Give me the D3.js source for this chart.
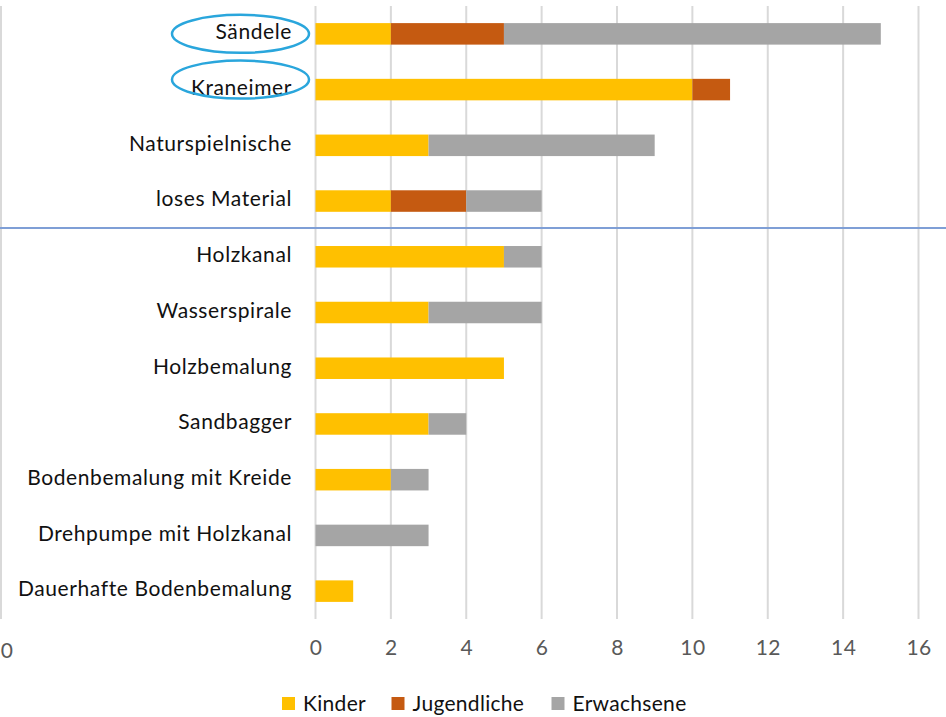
<!DOCTYPE html>
<html><head><meta charset="utf-8">
<script src="https://cdn.jsdelivr.net/npm/d3@7"></script>
<style>body{margin:0;background:#fff}svg{display:block}</style>
</head><body>
<script>
const categories = ["Sändele","Kraneimer","Naturspielnische","loses Material","Holzkanal","Wasserspirale","Holzbemalung","Sandbagger","Bodenbemalung mit Kreide","Drehpumpe mit Holzkanal","Dauerhafte Bodenbemalung"];
const seriesNames = ["Kinder","Jugendliche","Erwachsene"];
const kinder      = [2,10,3,2,5,3,5,3,2,0,1];
const jugendliche = [3,1,0,2,0,0,0,0,0,0,0];
const erwachsene  = [10,0,6,2,1,3,0,1,1,3,0];
const tickValues = [0,2,4,6,8,10,12,14,16];
const colors = ["#FFC000","#C55A11","#A5A5A5"];

const W=946,H=717;
const svg=d3.select("body").append("svg").attr("width",W).attr("height",H);
const font="Lato, 'Open Sans', sans-serif";

const x=d3.scaleLinear().domain([0,16]).range([315.5,918.5]);
const y=d3.scaleBand().domain(categories).range([6,619]).paddingInner(0.614).paddingOuter(0.307);

// gridlines
svg.append("g").selectAll("line").data(tickValues).join("line")
  .attr("x1",d=>x(d)).attr("x2",d=>x(d)).attr("y1",6).attr("y2",619)
  .attr("stroke","#D9D9D9").attr("stroke-width",2);
// left edge partial chart gridline
svg.append("line").attr("x1",1).attr("x2",1).attr("y1",6).attr("y2",619).attr("stroke","#D9D9D9").attr("stroke-width",2);

const stackData=categories.map((c,i)=>({cat:c,Kinder:kinder[i],Jugendliche:jugendliche[i],Erwachsene:erwachsene[i]}));
const stacked=d3.stack().keys(seriesNames)(stackData);

svg.append("g").selectAll("g").data(stacked).join("g").attr("fill",(d,i)=>colors[i])
  .selectAll("rect").data(d=>d).join("rect")
  .attr("x",d=>x(d[0])).attr("width",d=>x(d[1])-x(d[0]))
  .attr("y",d=>y(d.data.cat)).attr("height",y.bandwidth());

// category labels
svg.append("g").selectAll("text").data(categories).join("text")
  .attr("x",292).attr("y",d=>y(d)+y.bandwidth()/2-2).attr("dy","0.35em")
  .attr("text-anchor","end").attr("font-family",font).attr("font-size",21)
  .attr("letter-spacing",0.6).attr("fill","#111")
  .text(d=>d);

// separator line
svg.append("line").attr("x1",0).attr("x2",W).attr("y1",228).attr("y2",228).attr("stroke","#7F9FD6").attr("stroke-width",2);

// ellipses
const ell=[{c:"Sändele",dy:0},{c:"Kraneimer",dy:-10}];
svg.append("g").selectAll("ellipse").data(ell).join("ellipse")
  .attr("cx",240.5).attr("cy",d=>y(d.c)+y.bandwidth()/2+d.dy).attr("rx",68.5).attr("ry",19)
  .attr("fill","none").attr("stroke","#2AA6DC").attr("stroke-width",2.5);

// x axis labels
const ax=d3.axisBottom(x).tickValues(tickValues).tickSize(0).tickPadding(0);
const axg=svg.append("g").attr("transform","translate(0,640)").call(ax);
axg.select(".domain").remove();
axg.selectAll("text").attr("font-family",font).attr("font-size",21).attr("letter-spacing",0.4).attr("fill","#595959");
svg.append("text").attr("x",13).attr("y",658).attr("text-anchor","end").attr("font-family",font).attr("font-size",21).attr("fill","#595959").text("10");

// legend
const leg=[{n:"Kinder",x:282},{n:"Jugendliche",x:391.5},{n:"Erwachsene",x:551.5}];
const lg=svg.append("g");
leg.forEach((l,i)=>{
  lg.append("rect").attr("x",l.x).attr("y",697).attr("width",13).attr("height",13).attr("fill",colors[i]);
  lg.append("text").attr("x",l.x+21).attr("y",703.5).attr("dy","0.35em").attr("font-family",font).attr("font-size",21).attr("letter-spacing",0.3).attr("fill","#111").text(l.n);
});
</script>
</body></html>
